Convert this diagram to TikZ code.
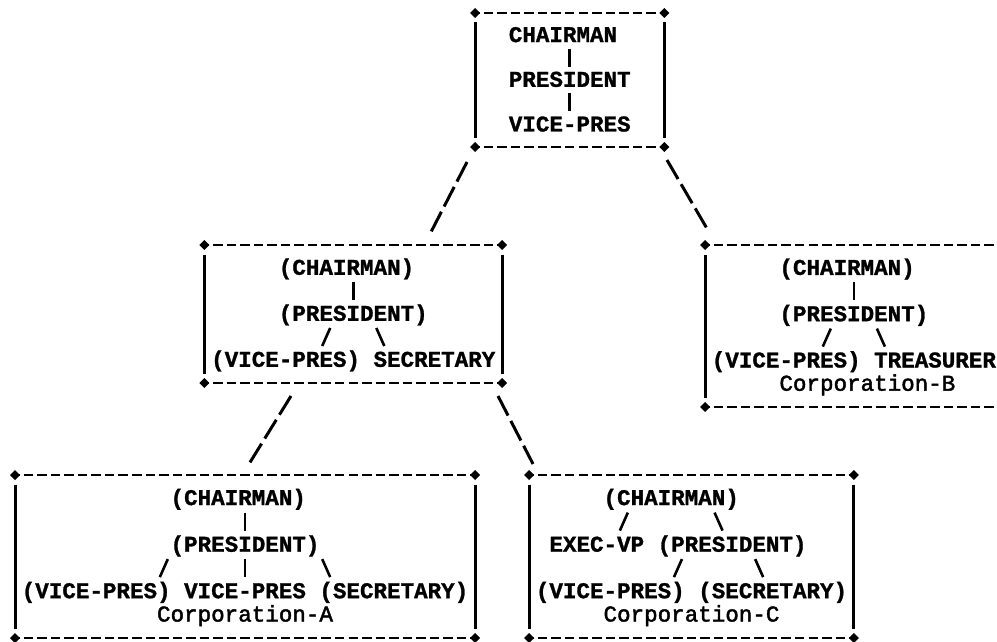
\documentclass[tikz,border=0pt]{standalone}
\usepackage{fontspec}
\setmonofont{Liberation Mono}[BoldFeatures={FakeBold=1.2}]
\newfontfamily\corpfont{Liberation Mono}[FakeBold=2]
\newcommand\cx[1]{15+13.53*(#1)}
\newcommand\lx[1]{15+13.53*(#1-0.5)}
\newcommand\orgbox[4]{%
  \draw[edge] ({\cx{#1}},#3) -- ({\cx{#2}},#3);
  \draw[edge] ({\cx{#1}},#4) -- ({\cx{#2}},#4);
  \draw[side] ({\cx{#1}},{#3+9.5}) -- ({\cx{#1}},{#4-9.5});
  \draw[side] ({\cx{#2}},{#3+9.5}) -- ({\cx{#2}},{#4-9.5});
  \foreach \cc in {#1,#2}{\foreach \yy in {#3,#4}{%
    \fill ({\cx{\cc}-5},\yy) -- ++(5,-5) -- ++(5,5) -- ++(-5,5) -- cycle;}}}
\newcommand\vlink[2]{\draw[link] ({\cx{#1}},{#2-9}) -- ({\cx{#1}},{#2+9});}
\newcommand\llink[2]{\draw[link] ({\cx{#1}+4},{#2-9}) -- ({\cx{#1}-4},{#2+9});}
\newcommand\rlink[2]{\draw[link] ({\cx{#1}-4},{#2-9}) -- ({\cx{#1}+4},{#2+9});}
\begin{document}
\begin{tikzpicture}[x=1pt,y=-1pt,
  txt/.style={anchor=base west, inner sep=0pt, outer sep=0pt,
    font=\fontsize{22.55}{24}\selectfont\ttfamily\bfseries},
  corp/.style={txt, font=\fontsize{22.55}{24}\selectfont\corpfont},
  edge/.style={line width=2.8pt, dash pattern=on 9.5pt off 4.03pt, dash phase=4.75pt},
  side/.style={line width=3pt},
  link/.style={line width=2.6pt},
  bridge/.style={line width=3pt, dash pattern=on 22pt off 6pt}]
\useasboundingbox (0,0) rectangle (997,642);
\clip (0,0) rectangle (997,642);
\fill[white] (0,0) rectangle (997,642);
\def\off{6.8}
% ---------- top box ----------
\orgbox{34}{48}{13}{147}
\node[txt] (tc) at ({\lx{37}},{35.3+\off}) {CHAIRMAN};
\vlink{41}{57.7}
\node[txt] (tp) at ({\lx{37}},{80+\off}) {PRESIDENT};
\vlink{41}{102.3}
\node[txt] (tv) at ({\lx{37}},{124.7+\off}) {VICE-PRES};
% ---------- middle box ----------
\orgbox{14}{36}{245}{383}
\node[txt] (mc) at ({\lx{20}},{268+\off}) {(CHAIRMAN)};
\vlink{25}{291}
\node[txt] (mp) at ({\lx{20}},{314+\off}) {(PRESIDENT)};
\llink{23}{337}\rlink{27}{337}
\node[txt] (mv) at ({\lx{15}},{360+\off}) {(VICE-PRES) SECRETARY};
% ---------- Corporation-B ----------
\orgbox{51}{73}{245}{407}
\node[txt] (bc) at ({\lx{57}},{268.1+\off}) {(CHAIRMAN)};
\vlink{62}{291.3}
\node[txt] (bp) at ({\lx{57}},{314.4+\off}) {(PRESIDENT)};
\llink{60}{337.6}\rlink{64}{337.6}
\node[txt] (bv) at ({\lx{52}},{360.7+\off}) {(VICE-PRES) TREASURER};
\node[corp] (bn) at ({\lx{57}},{383.9+\off}) {Corporation-B};
% ---------- Corporation-A ----------
\orgbox{0}{34}{475}{638}
\node[txt] (ac) at ({\lx{12}},{498.3+\off}) {(CHAIRMAN)};
\vlink{17}{521.6}
\node[txt] (ap) at ({\lx{12}},{544.9+\off}) {(PRESIDENT)};
\llink{11}{568.1}\vlink{17}{568.1}\rlink{23}{568.1}
\node[txt] (av) at ({\lx{1}},{591.4+\off}) {(VICE-PRES) VICE-PRES (SECRETARY)};
\node[corp] (an) at ({\lx{11}},{614.7+\off}) {Corporation-A};
% ---------- Corporation-C ----------
\orgbox{38}{62}{475}{638}
\node[txt] (cc) at ({\lx{44}},{498.3+\off}) {(CHAIRMAN)};
\llink{45}{521.6}\rlink{52}{521.6}
\node[txt] (cp) at ({\lx{40}},{544.9+\off}) {EXEC-VP (PRESIDENT)};
\llink{49}{568.1}\rlink{55}{568.1}
\node[txt] (cv) at ({\lx{39}},{591.4+\off}) {(VICE-PRES) (SECRETARY)};
\node[corp] (cn) at ({\lx{44}},{614.7+\off}) {Corporation-C};
% ---------- connectors between boxes ----------
\coordinate (tmT) at (467,162); \coordinate (tmM) at (431,232);
\coordinate (tbT) at (667,160); \coordinate (tbB) at (709,232);
\coordinate (maM) at (291,396); \coordinate (maA) at (249,464);
\coordinate (mcM) at (498,396); \coordinate (mcC) at (533,464);
\draw[bridge] (tmT) -- (tmM);
\draw[bridge] (tbT) -- (tbB);
\draw[bridge] (maM) -- (maA);
\draw[bridge] (mcM) -- (mcC);
\end{tikzpicture}
\end{document}
